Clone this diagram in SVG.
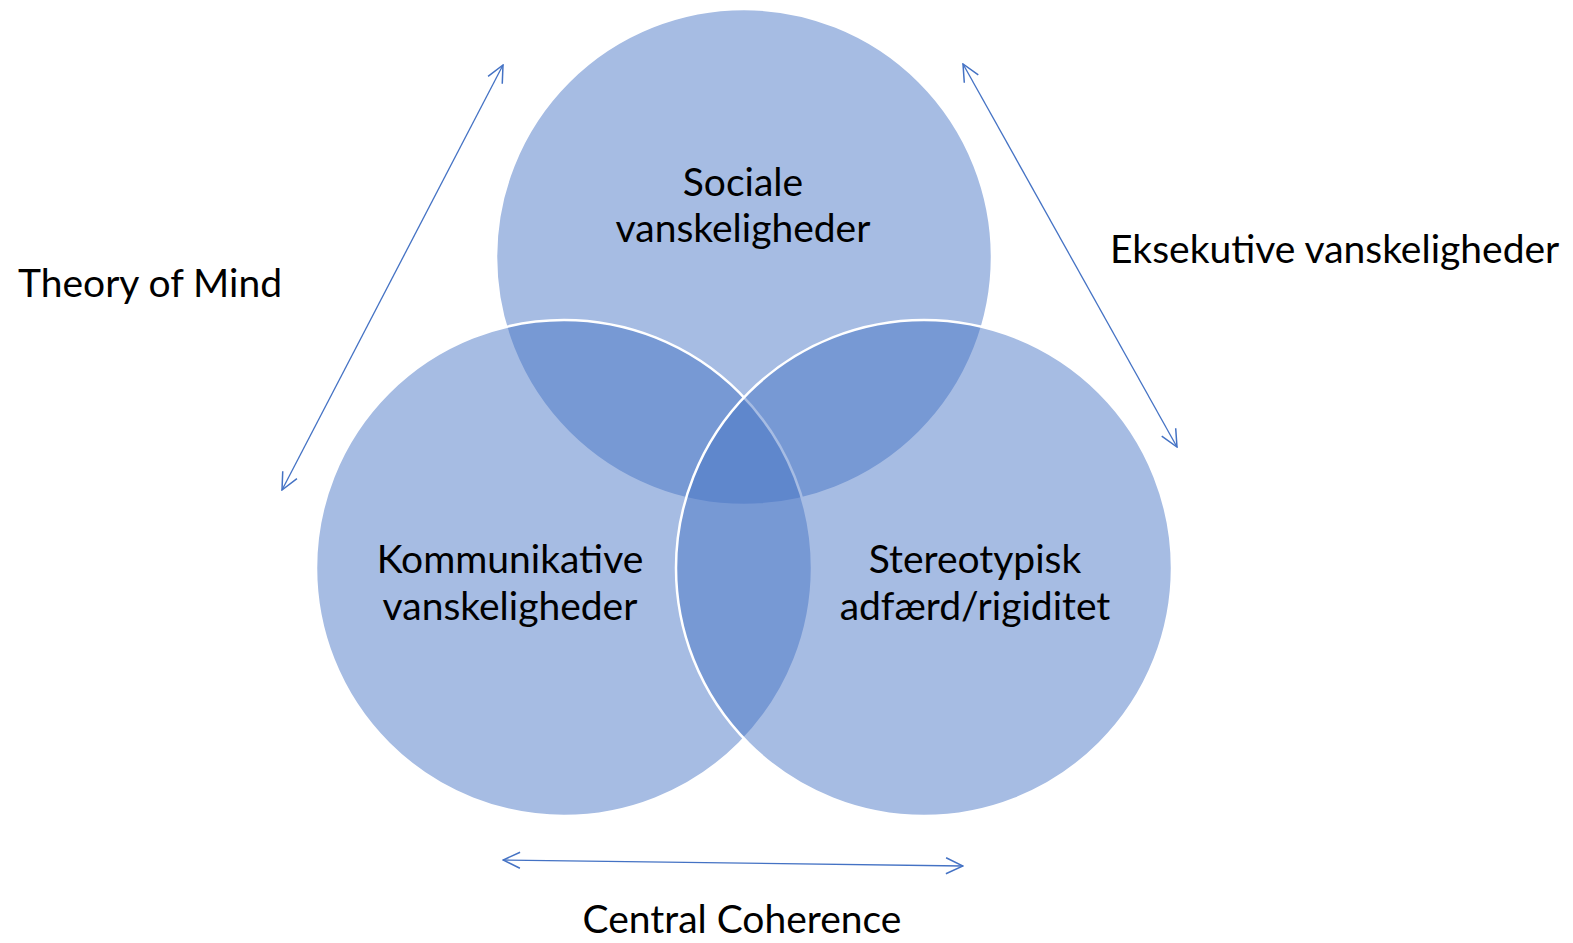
<svg xmlns="http://www.w3.org/2000/svg" width="1573" height="943" viewBox="0 0 1573 943">
<style>
.c{fill:#4472c4;fill-opacity:0.48;stroke:#ffffff;stroke-width:2.5}
.t{font-family:Lato,"Open Sans",sans-serif;font-size:39px;fill:#000000}
.m{text-anchor:middle}
.a{stroke:#4472c4;stroke-width:1.3;fill:none;marker-start:url(#h);marker-end:url(#h)}
</style>
<defs>
<marker id="h" viewBox="0 0 20 20" refX="19" refY="10" markerWidth="20" markerHeight="20" markerUnits="userSpaceOnUse" orient="auto-start-reverse">
<path d="M2,2 L19,10 L2,18" fill="none" stroke="#4472c4" stroke-width="1.5"/>
</marker>
</defs>
<rect width="1573" height="943" fill="#ffffff"/>
<g id="node-sociale">
<circle class="c" cx="744" cy="257" r="248"/>
</g>
<g id="node-kommunikative">
<circle class="c" cx="564" cy="568" r="248"/>
</g>
<g id="node-stereotypisk">
<circle class="c" cx="924" cy="568" r="248"/>
</g>
<g id="labels">
<text class="t m" x="743" y="196">Sociale</text>
<text class="t m" x="743" y="242">vanskeligheder</text>
<text class="t m" x="510" y="573">Kommunikative</text>
<text class="t m" x="510" y="620">vanskeligheder</text>
<text class="t m" x="975" y="573">Stereotypisk</text>
<text class="t m" x="975" y="620">adfærd/rigiditet</text>
</g>
<g id="connectors">
<line class="a" x1="282" y1="490" x2="503" y2="65"/>
<line class="a" x1="963" y1="64" x2="1177" y2="447"/>
<line class="a" x1="503" y1="860" x2="963" y2="866"/>
</g>
<g id="connector-labels">
<text class="t" x="18" y="297">Theory of Mind</text>
<text class="t" x="1110" y="263">Eksekutive vanskeligheder</text>
<text class="t m" x="742" y="933">Central Coherence</text>
</g>
</svg>
